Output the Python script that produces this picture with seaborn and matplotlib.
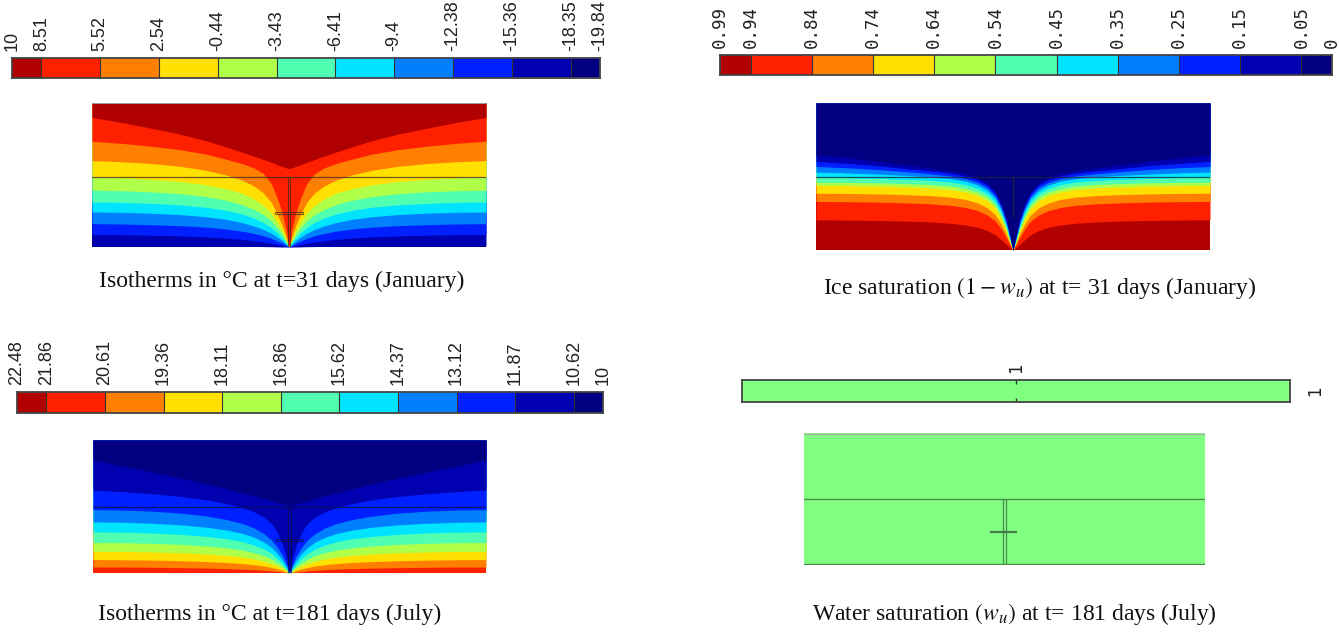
import numpy as np
import matplotlib
matplotlib.use("Agg")
import matplotlib.pyplot as plt
import seaborn as sns
from matplotlib.colors import ListedColormap

sns.set_theme(style="white")
plt.rcParams['font.family'] = ['DejaVu Sans']
plt.rcParams['mathtext.fontset'] = 'stix'

W, H = 1339, 632

# ---------------- data ----------------
jet11 = ["#B00000", "#FF2000", "#FF8000", "#FFE000", "#B0FF48", "#50FFB0",
         "#00E4FF", "#0080FF", "#0020FF", "#0000B0", "#000080"]
green = ["#80FF80"]

jan_ticks = ["10", "8.51", "5.52", "2.54", "-0.44", "-3.43", "-6.41", "-9.4",
             "-12.38", "-15.36", "-18.35", "-19.84"]
ice_ticks = ["0.99", "0.94", "0.84", "0.74", "0.64", "0.54", "0.45", "0.35",
             "0.25", "0.15", "0.05", "0"]
jul_ticks = ["22.48", "21.86", "20.61", "19.36", "18.11", "16.86", "15.62",
             "14.37", "13.12", "11.87", "10.62", "10"]
water_ticks = ["1"]

# horizontal distance from the centre line (fraction of half width)
u_pts = [1.0, 0.85, 0.7, 0.55, 0.42, 0.32, 0.24, 0.18, 0.13, 0.09, 0.06,
         0.035, 0.015, 0.0]

# band boundary depths (fraction of image height) read at u_pts
jan_bounds = [
    [.100, .135, .175, .217, .262, .305, .340, .368, .393, .412, .428, .440, .450, .456],
    [.266, .280, .300, .325, .355, .390, .420, .450, .490, .560, .660, .760, .880, 1.0],
    [.400, .408, .420, .440, .468, .500, .535, .575, .625, .690, .770, .850, .930, 1.0],
    [.516, .520, .530, .545, .568, .595, .625, .665, .710, .765, .825, .885, .950, 1.0],
    [.606, .609, .617, .630, .650, .675, .705, .738, .775, .818, .865, .912, .960, 1.0],
    [.688, .690, .697, .708, .724, .745, .770, .798, .830, .865, .900, .938, .972, 1.0],
    [.757, .759, .765, .775, .790, .808, .830, .853, .878, .905, .930, .955, .980, 1.0],
    [.838, .840, .845, .852, .862, .875, .890, .905, .922, .940, .958, .973, .988, 1.0],
    [.914, .915, .918, .923, .930, .938, .947, .956, .965, .974, .982, .990, .996, 1.0],
    [.992, .992, .992, .993, .993, .994, .995, .996, .997, .998, .999, 1.0, 1.0, 1.0],
]
ice_bounds = [
    [.352, .372, .395, .420, .443, .462, .482, .505, .540, .600, .680, .780, .900, 1.0],
    [.398, .410, .425, .445, .462, .478, .498, .522, .558, .615, .695, .792, .908, 1.0],
    [.432, .440, .452, .466, .482, .496, .515, .540, .575, .632, .710, .805, .915, 1.0],
    [.470, .475, .483, .492, .503, .514, .532, .558, .595, .650, .728, .820, .922, 1.0],
    [.507, .509, .513, .519, .527, .537, .555, .580, .618, .672, .748, .835, .930, 1.0],
    [.539, .540, .543, .548, .555, .565, .582, .606, .642, .695, .768, .850, .938, 1.0],
    [.561, .562, .565, .570, .577, .588, .605, .630, .665, .716, .786, .864, .945, 1.0],
    [.614, .615, .618, .623, .630, .640, .656, .680, .713, .760, .822, .890, .955, 1.0],
    [.670, .671, .674, .679, .686, .696, .711, .732, .762, .803, .856, .913, .965, 1.0],
    [.795, .796, .799, .803, .809, .818, .830, .846, .868, .896, .930, .960, .985, 1.0],
]
jul_bounds = [
    [.151, .196, .241, .287, .330, .367, .398, .420, .440, .458, .471, .481, .488, .492],
    [.377, .388, .404, .425, .450, .478, .508, .540, .580, .630, .700, .790, .890, 1.0],
    [.523, .527, .535, .550, .572, .598, .628, .662, .705, .755, .810, .870, .935, 1.0],
    [.616, .619, .626, .638, .656, .677, .702, .732, .768, .810, .856, .905, .955, 1.0],
    [.691, .693, .699, .710, .725, .742, .764, .790, .820, .855, .893, .932, .970, 1.0],
    [.771, .772, .777, .785, .797, .811, .828, .848, .870, .897, .925, .952, .978, 1.0],
    [.837, .838, .842, .848, .857, .868, .880, .895, .912, .930, .950, .968, .986, 1.0],
    [.899, .900, .903, .908, .914, .921, .929, .938, .948, .959, .970, .981, .992, 1.0],
    [.955, .955, .957, .960, .963, .967, .971, .975, .980, .985, .989, .993, .997, 1.0],
    [1.0, 1.0, 1.0, 1.0, 1.0, 1.0, 1.0, 1.0, 1.0, 1.0, 1.0, 1.0, 1.0, 1.0],
]

captions = [
    "Isotherms in \u00b0C at t=31 days (January)",
    "Ice saturation $(1-w_u)$ at t= 31 days (January)",
    "Isotherms in \u00b0C at t=181 days (July)",
    "Water saturation $(w_u)$ at t= 181 days (July)",
]

# ---------------- helpers ----------------
fig = plt.figure(figsize=(W / 100, H / 100), dpi=100)
fig.patch.set_facecolor("white")


def px_axes(x0, y0, x1, y1):
    return fig.add_axes([x0 / W, 1 - y1 / H, (x1 - x0) / W, (y1 - y0) / H])


def colorbar(ax, colors, labels, family, fsize):
    n = len(colors)
    if n > 1:
        cols = [0] + [i for i in range(1, n - 1) for _ in range(2)] + [n - 1]
        pos = [0] + list(range(1, 2 * (n - 1), 2)) + [2 * (n - 1)]
    else:
        cols = [0]
        pos = [0.5]
    data = np.array([cols], dtype=float)
    sns.heatmap(data, ax=ax, cmap=ListedColormap(colors), vmin=-0.5,
                vmax=n - 0.5, cbar=False, xticklabels=False, yticklabels=False)
    ax.set_xticks(pos)
    ax.set_xticklabels(labels, rotation=90, fontfamily=family, fontsize=fsize,
                       color="#222222")
    ax.xaxis.set_ticks_position("top")
    ax.tick_params(axis="x", length=0, pad=5)
    ax.set_yticks([])
    for p in pos[1:-1]:
        ax.axvline(p, color="#333333", lw=0.8)
    for s in ax.spines.values():
        s.set_visible(True)
        s.set_color("#444444")
        s.set_linewidth(1.3)


def field(ax, bounds, colors, line_col, sep, tb, tb_hw, stem_w, stem_end=1.0):
    u = np.array(u_pts)
    x = np.concatenate([-u, u[::-1][1:]])
    full = [np.concatenate([np.array(b), np.array(b)[::-1][1:]]) for b in bounds]
    ax.fill_between(x, 0, 1, color=colors[-1], lw=0)
    for k in range(len(colors) - 2, -1, -1):
        ax.fill_between(x, 0, full[k], color=colors[k], lw=0)
    ax.set_xlim(-1, 1)
    ax.set_ylim(1, 0)
    ax.axis("off")
    ax.axhline(sep, color=line_col, lw=0.9, alpha=0.75)
    ax.vlines([-stem_w, stem_w], sep, stem_end, color=line_col, lw=0.8, alpha=0.7)
    if tb is not None:
        ax.hlines([tb - 0.008, tb + 0.008], -tb_hw, tb_hw, color=line_col,
                  lw=0.8, alpha=0.7)
        ax.vlines([-tb_hw, tb_hw], tb - 0.008, tb + 0.008, color=line_col,
                  lw=0.8, alpha=0.7)


# ---------------- colour bars ----------------
ax = px_axes(12, 58, 600, 78)
colorbar(ax, jet11, jan_ticks, "Liberation Sans", 13)

ax = px_axes(720, 55, 1332, 75)
colorbar(ax, jet11, ice_ticks, "DejaVu Sans Mono", 12.5)

ax = px_axes(17, 392, 603, 413)
colorbar(ax, jet11, jul_ticks, "Liberation Sans", 13)

ax = px_axes(742, 380, 1290, 402)
colorbar(ax, green, water_ticks, "DejaVu Sans", 12)
ax.vlines(0.5, 0, 0.18, color="#333333", lw=1)
ax.vlines(0.5, 0.82, 1, color="#333333", lw=1)
ax.text(1.045, 0.5, "1", transform=ax.transAxes, rotation=90, ha="center",
        va="center", fontsize=12, color="#222222")

# ---------------- fields ----------------
ax = px_axes(92, 103, 486, 247)
field(ax, jan_bounds, jet11, "#3a2a20", 0.514, 0.764, 0.07, 0.006)
ax.axhline(0.002, color="#999999", lw=0.8)

ax = px_axes(816, 103, 1210, 250)
field(ax, ice_bounds, jet11[::-1], "#202830", 0.5, None, 0.0, 0.002, 0.78)

ax = px_axes(93, 440, 486, 573)
field(ax, jul_bounds, jet11[::-1], "#101040", 0.50, 0.754, 0.07, 0.006)

ax = px_axes(804, 433, 1205, 565)
ax.fill_between([-1, 1], 0, 1, color=green[0], lw=0)
ax.set_xlim(-1, 1)
ax.set_ylim(1, 0)
ax.axis("off")
ax.axhline(0.5, color="#4a8a4a", lw=1.0)
ax.axhline(0.995, color="#4a8a4a", lw=1.0)
ax.axhline(0.004, color="#aaaaaa", lw=1.0)
ax.vlines([-0.009, 0.006], 0.5, 1, color="#4a8a4a", lw=0.9)
ax.hlines(0.747, -0.07, 0.06, color="#4a7a4a", lw=1.6)

# ---------------- captions ----------------
cap_pos = [(282, 281), (1040, 288), (270, 614), (1014, 614)]
for (cx, cy), txt in zip(cap_pos, captions):
    fig.text(cx / W, 1 - cy / H, txt, ha="center", va="center",
             fontfamily="Liberation Serif", fontsize=17, color="#111111")

fig.savefig("out.png", dpi=100, facecolor="white")
